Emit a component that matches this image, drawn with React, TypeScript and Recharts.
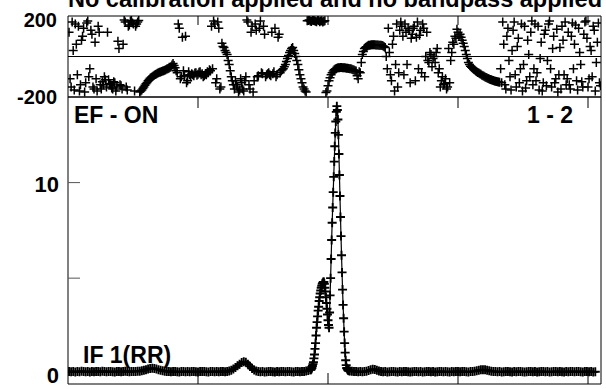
import { ScatterChart, Scatter, ComposedChart, Line, XAxis, YAxis, ReferenceLine } from 'recharts'

const FONT = 'Liberation Sans, Arial, Helvetica, sans-serif'

// channel axis (no labels, ticks only)
const chanDomain = [0, 1025]
const chanTicks = [250, 500, 750, 1000]

// phase (deg), every 4th channel from 2
const phaseAStart = 2
const phaseStep = 4
const phaseA = [
  120, -150, 30, 160, -90, -170, 80, 140, -130, 175, -60, 110, -160, -110, 150, -140,
  -125, -100, -150, -115, -140, -160, -130, -150, 40, -145, 60, 170, -165, 155, 178, 160,
  150, 170, -175, -165, -150, -135, -120, -108, -100, -92, -86, -80, -76, -72, -68, -62,
  -58, -50, -35, -55, -80, 140, -100, -70, 100, -120, -90, -85, -95, -80, -88, -75,
  -85, -95, -90, -80, -70, -60, 160, -110, 140, -150, 50, 30, 10, -40, -100, -140,
  -120, -150, -165, -130, -170, -100, 170, -160, 150, -120, 130, -95, 175, -85, 110, -90,
  -80, -95, -85, 140, -90, 110, -70, -60, -40, -10, 20, 40, 30, 0, -40, -90,
  -130, -160, -175, 178, 175, 179, 176, 172, 178, 175, 170, 177, -170, -120, -90, -72,
  -62, -57, -55, -54, -55, -57, -58, -60, -63, -67, -72, -110, -80, 10, 40, 48,
  55, 57, 58, 58, 57, 56, 55, 52, 45, -60, 20, -120, 100, -40, -150, 130,
  150, -90, 120, 140, -130, 110, 150, 95, -60, 130, 160, -100, 120, -30, 10, -10,
  -30, 40, -60, -120, -140, -110, -150, -130, 20, 60, 90, 120, 110, 80, 50, 10,
  -30, -48, -58, -67, -75, -82, -88, -95, -101, -106, -111, -115, -119, -122, -125, -127,
  -130, 60, -160, 140, -100, 30, 170, -150, 90, -60, -170, 150, -120, 10, 120, -140,
  160, -80, -165, 70, -130, 130, -20, 175, -150, 100, -110, -175, 45, 150, -90, -140,
  120, -160, 165, 60, -120, 140, -40, -150, 170, 90, -110, 30, 150, -170, 70, -130,
]

// phase (deg), the channels in between (every 4th from 4)
const phaseBStart = 4
const phaseB = [
  -110, 170, -165, 60, 150, -140, 100, -175, 165, -100, 130, -150, 70, -170, 120, -160,
  -140, -115, 120, -135, -155, -125, -170, 75, -140, -160, 180, -150, 150, 175, 165, -170,
  160, 178, -170, -158, -142, -128, -114, -104, -96, -89, -83, -78, -74, -70, -65, -60,
  -54, -42, -45, -70, 160, -110, 95, -95, -130, -75, -100, -90, -82, -92, -78, -90,
  -100, -88, -75, -65, 150, 175, -130, 170, -160, 65, 45, 20, -20, -70, -120, -160,
  -140, -175, -110, -160, -120, 180, -140, 120, -175, 160, -100, 140, -80, 150, -100, -85,
  -90, 120, -75, -100, 95, -80, -65, -50, -25, 5, 30, 45, 15, -20, -65, -110,
  -150, -170, 176, 180, 173, 178, 174, 180, 171, 177, 174, -178, -145, -105, -80, -66,
  -59, -56, -54, -55, -56, -58, -59, -61, -65, -70, -95, -75, -30, 25, 45, 52,
  56, 58, 58, 57, 57, 55, 54, 48, 0, 140, -90, 60, -170, 160, -80, 170,
  100, 160, -40, 130, 90, 140, -120, 170, 105, -80, 140, 0, -20, 20, -50, 0,
  20, -80, -150, -100, -135, -160, 40, -20, 70, 100, 135, 100, 95, 65, 30, -10,
  -40, -53, -63, -71, -79, -85, -92, -98, -104, -109, -113, -117, -121, -124, -126, -60,
  170, -140, 100, -20, -165, 130, -90, 50, -130, 160, -40, -155, 80, -100, 175, -60,
  -120, 150, -10, -170, 110, -145, 160, -60, 40, -130, 135, -90, -160, 80, 170, -110,
  -140, 100, -60, 155, -165, 20, -125, 110, 175, -150, 50, -100, 130, -30, 165, -145,
]

// amplitude baseline left of the line, every 4th channel from 2
const ampLeftStart = 2
const ampBaseStep = 4
const ampLeft = [
  0.12, 0.10, 0.11, 0.09, 0.12, 0.10, 0.13, 0.11, 0.10, 0.12, 0.09, 0.11, 0.10, 0.12, 0.11, 0.10,
  0.13, 0.12, 0.10, 0.11, 0.12, 0.10, 0.09, 0.11, 0.12, 0.10, 0.11, 0.13, 0.12, 0.10, 0.11, 0.12,
  0.12, 0.13,
  0.13, 0.15, 0.18, 0.21, 0.24, 0.27, 0.28, 0.27, 0.24, 0.21, 0.18, 0.15, 0.13,
  0.12, 0.11, 0.10, 0.12, 0.11, 0.10, 0.09, 0.11, 0.12, 0.10, 0.11, 0.10, 0.12, 0.11, 0.10, 0.09,
  0.11, 0.12, 0.11, 0.10, 0.09, 0.11, 0.12, 0.10, 0.11, 0.10, 0.12, 0.11, 0.10, 0.12, 0.14,
  0.18, 0.24, 0.32, 0.41, 0.50, 0.58, 0.63, 0.60, 0.50, 0.38, 0.27, 0.19, 0.14,
  0.12, 0.10, 0.11, 0.09, 0.10, 0.12, 0.11, 0.10, 0.09, 0.11, 0.10, 0.12, 0.11, 0.10, 0.12, 0.11,
  0.10, 0.09, 0.11, 0.12, 0.10, 0.11, 0.12, 0.14, 0.17,
]

// every channel across the line
const ampPeakStart = 466
const ampPeak = [
  0.2, 0.2, 0.25, 0.3, 0.4, 0.5, 0.6, 0.8, 1.0, 1.3, 1.6, 2.0, 2.4, 2.7, 3.0, 3.3,
  3.5, 3.8, 4.0, 4.2, 4.35, 4.5, 4.6, 4.7, 4.75, 4.8, 4.8, 4.7, 4.5, 4.3, 4.0, 3.7,
  3.4, 3.1, 2.8, 2.55, 2.4, 3.2, 4.1, 5.0, 6.0, 7.0, 7.9, 8.7, 9.5, 10.3, 11.1, 11.9,
  12.6, 13.2, 13.7, 14.0, 13.8, 13.3, 12.5, 11.5, 10.4, 9.3, 8.2, 7.2, 6.2, 5.3, 4.4, 3.6,
  2.9, 2.2, 1.6, 1.1, 0.7, 0.45, 0.3, 0.25, 0.2, 0.17, 0.15,
]

// amplitude baseline right of the line, every 4th channel from 542
const ampRightStart = 542
const ampRight = [
  0.14, 0.13, 0.12, 0.11, 0.10, 0.11, 0.10, 0.11,
  0.13, 0.16, 0.20, 0.23, 0.22, 0.18, 0.14, 0.12,
  0.10, 0.11, 0.09, 0.10, 0.12, 0.11, 0.10, 0.09, 0.11, 0.10, 0.12, 0.11, 0.10, 0.09, 0.10, 0.11,
  0.12, 0.10, 0.11, 0.09, 0.10, 0.12, 0.11, 0.10, 0.11, 0.09, 0.10, 0.11, 0.12, 0.10, 0.11, 0.10,
  0.09, 0.11, 0.10, 0.12, 0.11, 0.10, 0.12, 0.11, 0.10, 0.09, 0.11, 0.12,
  0.13, 0.15, 0.18, 0.20, 0.21, 0.20, 0.18, 0.15, 0.13, 0.12, 0.11,
  0.10, 0.11, 0.09, 0.10, 0.12, 0.11, 0.10, 0.09, 0.11, 0.10, 0.12, 0.11, 0.10, 0.09, 0.10, 0.11,
  0.12, 0.10, 0.11, 0.09, 0.10, 0.12, 0.11, 0.10, 0.11, 0.09, 0.10, 0.11, 0.12, 0.10, 0.11, 0.10,
  0.09, 0.11, 0.10, 0.12, 0.11, 0.10, 0.12, 0.11, 0.10, 0.09, 0.11, 0.12, 0.10, 0.11, 0.09, 0.10,
]

const phaseData = [
  ...phaseA.map((p, i) => ({ ch: phaseAStart + i * phaseStep, p })),
  ...phaseB.map((p, i) => ({ ch: phaseBStart + i * phaseStep, p })),
]
const ampData = [
  ...ampLeft.map((a, i) => ({ ch: ampLeftStart + i * ampBaseStep, a })),
  ...ampPeak.map((a, i) => ({ ch: ampPeakStart + i, a })),
  ...ampRight.map((a, i) => ({ ch: ampRightStart + i * ampBaseStep, a })),
]

// eslint-disable-next-line @typescript-eslint/no-explicit-any
function Plus({ cx, cy, w = 1.5 }: any) {
  if (cx == null || cy == null) return null
  return <path d={`M${cx - 4.5},${cy}h9M${cx},${cy - 4.5}v9`} stroke="#000" strokeWidth={w} fill="none" />
}

// tick marks drawn by hand so they can point into the frame
// eslint-disable-next-line @typescript-eslint/no-explicit-any
function XTick({ x, y, len }: any) {
  return <line x1={x} x2={x} y1={y} y2={y + len} stroke="#000" strokeWidth={1} />
}

// eslint-disable-next-line @typescript-eslint/no-explicit-any
function PhaseTick({ x, y, payload }: any) {
  const v = payload.value
  return (
    <text x={x - 11} y={y + (v > 0 ? 11 : 7)} textAnchor="end" fontFamily={FONT} fontWeight="bold" fontSize={20} fill="#000">
      {v}
    </text>
  )
}

// eslint-disable-next-line @typescript-eslint/no-explicit-any
function AmpTick({ x, y, payload }: any) {
  const v = payload.value
  return (
    <g>
      {v > 0 && <line x1={x} x2={x + 12} y1={y} y2={y} stroke="#555" strokeWidth={1} />}
      {v !== 5 && (
        <text x={x - 9} y={y + 9} textAnchor="end" fontFamily={FONT} fontWeight="bold" fontSize={22} fill="#000">
          {v}
        </text>
      )}
    </g>
  )
}

const labelStyle = { fontFamily: FONT, fontWeight: 'bold' as const, fill: '#000' }

export default function App() {
  return (
    <div style={{ position: 'absolute', left: 0, top: 0, width: 606, height: 389, background: '#fff', overflow: 'hidden' }}>
      <div style={{ position: 'absolute', left: 0, top: 0 }}>
        <ComposedChart width={606} height={389} data={ampData} margin={{ top: 96, right: 4, bottom: 4, left: 67 }}>
          <XAxis xAxisId="b" type="number" dataKey="ch" domain={chanDomain} ticks={chanTicks} height={1}
            tickLine={false} tickSize={0} tickMargin={0} tick={<XTick len={-11} />} stroke="#000" allowDataOverflow />
          <XAxis xAxisId="t" orientation="top" type="number" dataKey="ch" domain={chanDomain} height={1}
            tick={false} tickLine={false} stroke="#000" allowDataOverflow />
          <YAxis yAxisId="l" type="number" domain={[-0.54, 14.48]} ticks={[0, 5, 10]} width={1}
            tickLine={false} tickSize={0} tickMargin={0} tick={<AmpTick />} stroke="#000" allowDataOverflow />
          <YAxis yAxisId="r" orientation="right" type="number" domain={[-0.54, 14.48]} width={1}
            tick={false} tickLine={false} stroke="#000" allowDataOverflow />
          <Line xAxisId="b" yAxisId="l" dataKey="a" type="linear" stroke="#000" strokeWidth={1.2}
            dot={(p: any) => <Plus key={`d${p.index}`} cx={p.cx} cy={p.cy} w={1.9} />} activeDot={false} isAnimationActive={false} />
        </ComposedChart>
      </div>
      <div style={{ position: 'absolute', left: 0, top: 0 }}>
        <ScatterChart width={606} height={130} margin={{ top: 15, right: 4, bottom: 32, left: 67 }}>
          <XAxis xAxisId="b" type="number" dataKey="ch" domain={chanDomain} ticks={chanTicks} height={1}
            tickLine={false} tickSize={0} tickMargin={0} tick={<XTick len={11} />} stroke="#000" allowDataOverflow />
          <XAxis xAxisId="t" orientation="top" type="number" dataKey="ch" domain={chanDomain} ticks={chanTicks} height={1}
            tickLine={false} tickSize={0} tickMargin={0} tick={<XTick len={9} />} stroke="#000" allowDataOverflow />
          <YAxis yAxisId="l" type="number" dataKey="p" domain={[-200, 200]} ticks={[-200, 200]} width={1}
            tickLine={false} tickSize={0} tickMargin={0} tick={<PhaseTick />} stroke="#000" allowDataOverflow />
          <YAxis yAxisId="r" orientation="right" type="number" domain={[-200, 200]} width={1}
            tick={false} tickLine={false} stroke="#000" allowDataOverflow />
          <ReferenceLine xAxisId="b" yAxisId="l" y={0} stroke="#000" />
          <Scatter xAxisId="b" yAxisId="l" data={phaseData} shape={Plus} isAnimationActive={false} />
        </ScatterChart>
      </div>
      <svg width={606} height={389} style={{ position: 'absolute', left: 0, top: 0, pointerEvents: 'none' }}>
        <text x={335} y={7} textAnchor="middle" fontSize={23.5} {...labelStyle}>
          No calibration applied and no bandpass applied
        </text>
        <text x={74} y={123} fontSize={23} {...labelStyle}>EF - ON</text>
        <text x={573} y={123} textAnchor="end" fontSize={23} {...labelStyle}>1 - 2</text>
        <text x={83} y={363} fontSize={23} {...labelStyle}>IF 1(RR)</text>
      </svg>
    </div>
  )
}
